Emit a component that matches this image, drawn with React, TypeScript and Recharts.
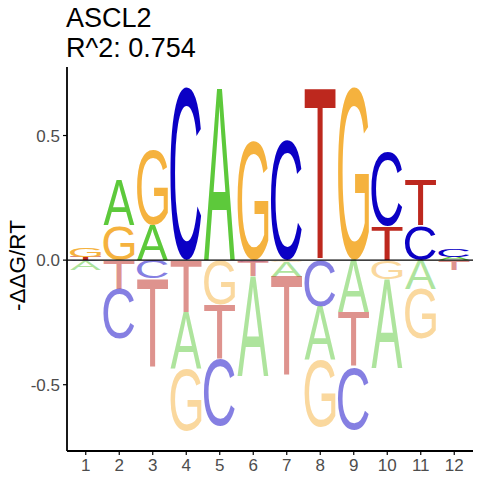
import React from 'react';
import { BarChart, Bar, XAxis, YAxis, ReferenceLine } from 'recharts';

// Sequence-logo values (-ΔΔG/RT) per position, one array per nucleotide
const positions = ['1', '2', '3', '4', '5', '6', '7', '8', '9', '10', '11', '12'];
const valA = [-0.034, 0.18, 0.139, -0.224, 0.69, -0.4, -0.06, -0.217, -0.21, -0.357, -0.116, 0.013];
const valC = [-0.005, -0.2, -0.073, 0.695, -0.267, -0.006, 0.479, -0.185, -0.25, 0.297, 0.139, 0.03];
const valG = [0.036, 0.139, 0.3, -0.25, -0.18, 0.478, -0.006, -0.267, 0.695, -0.076, -0.2, -0.005];
const valT = [0.014, -0.116, -0.357, -0.21, -0.22, -0.06, -0.4, 0.69, -0.22, 0.137, 0.184, -0.034];
const yTicks = [-0.5, 0, 0.5];
const titleLines = ['ASCL2', 'R^2: 0.754'];
const yLabel = '-ΔΔG/RT';

const letterColors: Record<string, string> = {
  A: '#5DC93B',
  C: '#0B00C5',
  G: '#F5B23E',
  T: '#BD281E',
};

const LETTER_FONT = 'Liberation Sans';
const LETTER_WEIGHT = 400;

const letterValues: Record<string, number[]> = { A: valA, C: valC, G: valG, T: valT };
const posSlots = ['p0', 'p1', 'p2', 'p3'];
const negSlots = ['n0', 'n1', 'n2', 'n3'];

const rows = positions.map((pos, i) => {
  const row: any = { pos };
  const entries = Object.keys(letterValues).map((L) => ({ L, v: letterValues[L][i] }));
  const pos_ = entries.filter((e) => e.v > 0).sort((a, b) => a.v - b.v);
  const neg_ = entries.filter((e) => e.v < 0).sort((a, b) => b.v - a.v);
  posSlots.forEach((s, k) => {
    row[s] = pos_[k] ? pos_[k].v : 0;
    row[s + 'L'] = pos_[k] ? pos_[k].L : '';
  });
  negSlots.forEach((s, k) => {
    row[s] = neg_[k] ? neg_[k].v : 0;
    row[s + 'L'] = neg_[k] ? neg_[k].L : '';
  });
  return row;
});

type Metric = { left: number; w: number; ascent: number; h: number };
const metricCache: Record<string, Metric> = {};
function getMetrics(letter: string): Metric {
  if (metricCache[letter]) return metricCache[letter];
  let m: Metric = { left: 0, w: 65, ascent: 71, h: 71 };
  try {
    const c = document.createElement('canvas');
    const ctx = c.getContext('2d');
    if (ctx) {
      ctx.font = `${LETTER_WEIGHT} 100px "${LETTER_FONT}"`;
      const t = ctx.measureText(letter);
      const left = t.actualBoundingBoxLeft;
      const right = t.actualBoundingBoxRight;
      const asc = t.actualBoundingBoxAscent;
      const desc = t.actualBoundingBoxDescent;
      if (left + right > 1 && asc + desc > 1) {
        m = { left, w: left + right, ascent: asc, h: asc + desc };
      }
    }
  } catch (e) {
    /* keep fallback */
  }
  metricCache[letter] = m;
  return m;
}

function LetterShape(props: any) {
  const { x, y, width, height, payload, slot, neg } = props;
  const letter = payload ? payload[slot + 'L'] : '';
  if (!letter) return null;
  let top = y;
  let h = height;
  if (h < 0) {
    top = y + h;
    h = -h;
  }
  if (!(h > 0.2) || !(width > 0)) return null;
  const m = getMetrics(letter);
  const sx = width / m.w;
  const sy = h / m.h;
  return (
    <text
      transform={`translate(${x},${top}) scale(${sx},${sy}) translate(${m.left},${m.ascent})`}
      x={0}
      y={0}
      fontFamily={LETTER_FONT}
      fontWeight={LETTER_WEIGHT}
      fontSize={100}
      fill={letterColors[letter]}
      fillOpacity={neg ? 0.5 : 1}
    >
      {letter}
    </text>
  );
}

const tickStyle = { fill: '#4D4D4D', fontSize: 17, fontFamily: 'Liberation Sans' };

export default function App() {
  return (
    <div style={{ position: 'absolute', left: 0, top: 0, width: 480, height: 480, background: '#fff' }}>
      <BarChart
        width={480}
        height={480}
        data={rows}
        stackOffset="sign"
        barSize={31}
        margin={{ top: 67, right: 7, bottom: 3, left: 7 }}
      >
        <XAxis
          dataKey="pos"
          padding={{ left: 2, right: 2 }}
          tick={tickStyle}
          tickSize={4}
          tickMargin={4}
          height={26}
          axisLine={{ stroke: '#000', strokeWidth: 1.8 }}
          tickLine={{ stroke: '#000', strokeWidth: 1.2 }}
          interval={0}
        />
        <YAxis
          type="number"
          domain={[-0.766, 0.775]}
          allowDataOverflow
          ticks={yTicks}
          tickFormatter={(v: number) => v.toFixed(1)}
          tick={tickStyle}
          tickSize={4}
          tickMargin={3}
          width={60}
          axisLine={{ stroke: '#000', strokeWidth: 1.8 }}
          tickLine={{ stroke: '#000', strokeWidth: 1.2 }}
        />
        {posSlots.map((s) => (
          <Bar
            key={s}
            dataKey={s}
            stackId="s"
            isAnimationActive={false}
            shape={(p: any) => <LetterShape {...p} slot={s} neg={false} />}
          />
        ))}
        {negSlots.map((s) => (
          <Bar
            key={s}
            dataKey={s}
            stackId="s"
            isAnimationActive={false}
            shape={(p: any) => <LetterShape {...p} slot={s} neg={true} />}
          />
        ))}
        <ReferenceLine y={0} stroke="#000" strokeWidth={1.2} ifOverflow="extendDomain" />
      </BarChart>
      <svg
        width={480}
        height={480}
        style={{ position: 'absolute', left: 0, top: 0, pointerEvents: 'none' }}
      >
        <text x={66} y={26.7} fontFamily="Liberation Sans" fontSize={27} fill="#000">
          {titleLines[0]}
        </text>
        <text x={66} y={57.3} fontFamily="Liberation Sans" fontSize={27} fill="#000">
          {titleLines[1]}
        </text>
        <text
          transform="translate(25,265.5) rotate(-90)"
          textAnchor="middle"
          fontFamily="Liberation Sans"
          fontSize={22.5}
          fill="#000"
        >
          {yLabel}
        </text>
      </svg>
    </div>
  );
}
